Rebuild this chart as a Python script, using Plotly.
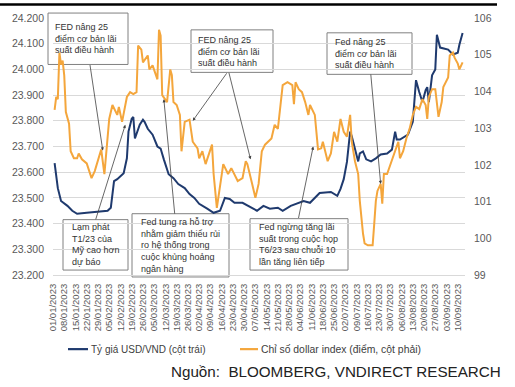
import plotly.graph_objects as go

# ---------------- DATA ----------------
usd_dates = ["2023-01-02","2023-01-04","2023-01-06","2023-01-10","2023-01-13","2023-01-16","2023-01-22","2023-01-28",
             "2023-02-04","2023-02-06","2023-02-07","2023-02-08","2023-02-10","2023-02-14","2023-02-16","2023-02-17",
             "2023-02-19","2023-02-20","2023-02-21","2023-02-24","2023-02-26","2023-02-27","2023-03-01","2023-03-04",
             "2023-03-07","2023-03-09","2023-03-11","2023-03-14","2023-03-17","2023-03-20","2023-03-24","2023-03-27",
             "2023-03-30","2023-04-02","2023-04-07","2023-04-11","2023-04-15","2023-04-18","2023-04-21","2023-04-24",
             "2023-04-29","2023-05-04","2023-05-08","2023-05-12","2023-05-16","2023-05-21","2023-05-24","2023-05-29",
             "2023-06-02","2023-06-06","2023-06-10","2023-06-13","2023-06-16","2023-06-23","2023-06-27","2023-06-29",
             "2023-07-01","2023-07-03","2023-07-05","2023-07-06","2023-07-10","2023-07-11","2023-07-13","2023-07-15",
             "2023-07-18","2023-07-21","2023-07-24","2023-07-28","2023-07-31","2023-08-02","2023-08-03","2023-08-05",
             "2023-08-08","2023-08-10","2023-08-13","2023-08-15","2023-08-17","2023-08-19","2023-08-21","2023-08-22",
             "2023-08-23","2023-08-25","2023-08-27","2023-08-28","2023-08-30","2023-09-04","2023-09-07","2023-09-10",
             "2023-09-11","2023-09-13"]
usd_vnd = [23635,23538,23488,23469,23450,23438,23442,23446,
           23450,23462,23515,23565,23573,23596,23654,23758,
           23808,23815,23731,23785,23804,23796,23769,23746,
           23700,23692,23650,23592,23577,23554,23538,23515,
           23500,23477,23458,23442,23450,23500,23496,23481,
           23481,23462,23450,23469,23458,23462,23450,23469,
           23477,23488,23481,23500,23519,23523,23508,23535,
           23573,23640,23758,23740,23642,23673,23681,23650,
           23642,23654,23669,23673,23688,23758,23727,23727,
           23738,23746,23796,23958,23912,23873,23919,23931,
           23873,23977,24000,24135,24085,24077,24058,24065,
           24096,24142]

dxy_dates = ["2023-01-02","2023-01-03","2023-01-04","2023-01-05","2023-01-06","2023-01-07","2023-01-08","2023-01-09",
             "2023-01-11","2023-01-12","2023-01-14","2023-01-16","2023-01-17","2023-01-19","2023-01-22","2023-01-25",
             "2023-01-27","2023-01-29","2023-01-31","2023-02-02","2023-02-05","2023-02-07","2023-02-10","2023-02-11",
             "2023-02-13","2023-02-16","2023-02-18","2023-02-20","2023-02-22","2023-02-23","2023-02-25","2023-02-26",
             "2023-03-01","2023-03-02","2023-03-04","2023-03-07","2023-03-08","2023-03-09","2023-03-10","2023-03-13",
             "2023-03-15","2023-03-16","2023-03-17","2023-03-19","2023-03-21","2023-03-22","2023-03-24","2023-03-27",
             "2023-03-28","2023-03-29","2023-04-01","2023-04-02","2023-04-04","2023-04-06","2023-04-10","2023-04-11",
             "2023-04-13","2023-04-15","2023-04-17","2023-04-20","2023-04-22","2023-04-26","2023-04-29","2023-05-01",
             "2023-05-02","2023-05-05","2023-05-07","2023-05-09","2023-05-11","2023-05-13","2023-05-15","2023-05-17",
             "2023-05-19","2023-05-21","2023-05-24","2023-05-27","2023-05-30","2023-05-31","2023-06-01","2023-06-03",
             "2023-06-05","2023-06-07","2023-06-09","2023-06-10","2023-06-13","2023-06-15","2023-06-17","2023-06-18",
             "2023-06-21","2023-06-23","2023-06-25","2023-06-27","2023-06-29","2023-07-01","2023-07-03","2023-07-05",
             "2023-07-06","2023-07-08","2023-07-10","2023-07-11","2023-07-13","2023-07-14","2023-07-16","2023-07-19",
             "2023-07-20","2023-07-21","2023-07-22","2023-07-24","2023-07-25","2023-07-26","2023-07-28","2023-07-30",
             "2023-08-01","2023-08-04","2023-08-05","2023-08-07","2023-08-09","2023-08-11","2023-08-13","2023-08-15",
             "2023-08-17","2023-08-19","2023-08-21","2023-08-22","2023-08-23","2023-08-25","2023-08-27","2023-08-29",
             "2023-08-31","2023-09-01","2023-09-04","2023-09-05","2023-09-07","2023-09-08","2023-09-10","2023-09-11",
             "2023-09-13"]
dxy = [103.50,103.85,103.79,105.06,104.73,104.84,104.44,103.44,
       103.12,102.37,102.18,102.18,102.31,102.15,102.04,101.64,
       101.83,102.10,102.42,101.75,103.25,103.63,103.36,103.58,
       103.17,103.85,103.98,103.93,103.98,105.25,105.14,104.79,
       104.98,104.60,104.71,104.33,105.68,105.52,103.90,103.71,
       104.60,104.44,103.71,103.63,103.36,102.37,103.17,103.23,
       102.98,102.63,102.45,102.18,102.37,102.02,102.55,101.75,
       100.83,101.48,102.02,101.75,101.91,101.56,101.64,102.10,
       102.02,101.48,101.10,101.48,102.37,102.55,102.63,102.72,
       103.09,102.98,104.17,104.25,104.17,103.65,104.25,104.06,
       103.98,103.71,103.36,103.63,103.36,102.42,102.45,102.63,
       102.10,102.31,102.90,102.63,103.25,102.90,102.77,103.36,
       102.63,102.10,101.75,101.02,100.13,99.86,99.81,99.81,
       100.40,101.02,101.29,101.48,100.94,101.75,101.75,102.02,
       102.28,102.63,102.18,102.37,102.72,102.98,103.36,103.58,
       103.52,103.79,103.63,103.25,103.85,104.06,104.06,103.31,
       103.71,104.12,104.38,104.98,105.06,104.92,104.76,104.60,
       104.79]

assert len(usd_dates) == len(usd_vnd)
assert len(dxy_dates) == len(dxy)

series_names = ["Tỷ giá USD/VND (cột trái)", "Chỉ số dollar index (điểm, cột phải)"]
source_text = "Nguồn:\u00a0\u00a0BLOOMBERG, VNDIRECT RESEARCH"

# event annotations: (text, arrow-target date, arrow-target dxy value)
events = [
    ("FED nâng 25<br>điểm cơ bản lãi<br>suất điều hành", [("2023-02-01", 102.39)]),
    ("FED nâng 25<br>điểm cơ bản lãi<br>suất điều hành", [("2023-03-29", 103.20), ("2023-05-04", 102.15)]),
    ("Fed nâng 25<br>điểm cơ bản lãi<br>suất điều hành", [("2023-07-24", 101.48)]),
    ("Lạm phát<br>T1/23 của<br>Mỹ cao hơn<br>dự báo", [("2023-02-15", 103.09)]),
    ("Fed tung ra hỗ trợ<br>nhằm giảm thiểu rủi<br>ro hệ thống trong<br>cuộc khủng hoảng<br>ngân hàng", [("2023-03-11", 103.79)]),
    ("Fed ngừng tăng lãi<br>suất trong cuộc họp<br>T6/23 sau chuỗi 10<br>lần tăng liên tiếp", [("2023-06-12", 102.50)]),
]

# ---------------- LAYOUT HELPERS ----------------
L, R, T, B = 53, 465, 15, 275
W_, H_ = R - L, B - T
def px(x): return (x - L) / W_
def py(y): return (B - y) / H_

# box pixel rectangles (left, top, right, bottom) and arrow tails/heads (pixel) for each event
boxes = [(48, 10, 128, 62), (191, 27, 273, 70), (327, 30, 412, 72),
         (63, 219, 128, 270), (132, 213, 229, 277), (250, 218, 348, 270)]
text_pad = [5, 5, 6, 7, 7, 7]
tails = [[(90, 62)], [(228, 70), (228, 70)], [(370, 72)],
         [(95, 219)], [(175, 213)], [(298, 218)]]
heads = [[(103, 149)], [(193, 119), (250, 158)], [(380, 183)],
         [(125, 123)], [(164, 97)], [(313, 145)]]

BLUE = "#1F3A6E"
ORANGE = "#F4A63C"
FONT = "Liberation Sans, Arial, sans-serif"

fig = go.Figure()
fig.add_trace(go.Scatter(x=dxy_dates, y=dxy, yaxis="y2", mode="lines", name=series_names[1],
                         line=dict(color=ORANGE, width=2)))
fig.add_trace(go.Scatter(x=usd_dates, y=usd_vnd, yaxis="y", mode="lines", name=series_names[0],
                         line=dict(color=BLUE, width=2)))

annotations = []
shapes = []
for (text, targets), (l, t, r, b), tp, tl, hd in zip(events, boxes, text_pad, tails, heads):
    shapes.append(dict(type="rect", xref="paper", yref="paper", x0=px(l), x1=px(r), y0=py(b), y1=py(t),
                       fillcolor="white", line=dict(color="#808080", width=1), layer="between"))
    annotations.append(dict(x=px(l + tp), y=py((t + b) / 2), xref="paper", yref="paper",
                            xanchor="left", yanchor="middle", text=text, showarrow=False, align="left",
                            font=dict(size=9, color="#333333", family=FONT)))
    for (d, v), (tx, ty), (hx, hy) in zip(targets, tl, hd):
        annotations.append(dict(x=d, y=v, xref="x", yref="y2", text="", showarrow=True,
                                ax=tx - hx, ay=ty - hy, arrowhead=2, arrowsize=0.8,
                                arrowwidth=0.8, arrowcolor="#404040", standoff=0))

# manual legend and source
annotations.append(dict(x=px(89), y=py(350), xref="paper", yref="paper", xanchor="left", yanchor="middle",
                        text=series_names[0], showarrow=False, font=dict(size=10, color="#404040", family=FONT)))
annotations.append(dict(x=px(259), y=py(350), xref="paper", yref="paper", xanchor="left", yanchor="middle",
                        text=series_names[1], showarrow=False, font=dict(size=10.4, color="#404040", family=FONT)))
annotations.append(dict(x=px(503), y=py(373), xref="paper", yref="paper", xanchor="right", yanchor="middle",
                        text=source_text, showarrow=False, font=dict(size=15.2, color="#222222", family=FONT)))

shapes += [
    dict(type="rect", xref="paper", yref="paper", x0=px(0), x1=px(497), y0=py(2.5), y1=py(0),
         fillcolor="black", line=dict(width=0)),
    dict(type="line", xref="paper", yref="paper", x0=px(68), x1=px(88), y0=py(350), y1=py(350),
         line=dict(color=BLUE, width=2.2)),
    dict(type="line", xref="paper", yref="paper", x0=px(240), x1=px(258), y0=py(350), y1=py(350),
         line=dict(color=ORANGE, width=2.2)),
]

fig.update_layout(
    width=515, height=387,
    margin=dict(l=L, r=515 - R, t=T, b=387 - B, pad=0),
    plot_bgcolor="white", paper_bgcolor="white",
    font=dict(family=FONT, color="#595959"),
    separators=",.",
    showlegend=False,
    annotations=annotations,
    shapes=shapes,
    xaxis=dict(type="date", range=["2023-01-01", "2023-09-14 12:00"], tick0="2023-01-01",
               dtick=7 * 24 * 3600 * 1000, tickformat="%d/%m/%Y", tickangle=-90,
               tickfont=dict(size=9.5, color="#595959"), showgrid=False, zeroline=False,
               showline=True, linecolor="#D9D9D9", linewidth=1, ticks="", ticklabelstandoff=4),
    yaxis=dict(range=[23200, 24200], dtick=100, tickformat=",.0f", showgrid=True,
               gridcolor="#D9D9D9", gridwidth=1, zeroline=False, showline=False,
               tickfont=dict(size=10.5, color="#595959"), ticklabelstandoff=8),
    yaxis2=dict(range=[99, 106], dtick=1, overlaying="y", side="right", showgrid=False,
                zeroline=False, showline=False, tickfont=dict(size=10.5, color="#595959"),
                ticklabelstandoff=8),
)

fig.write_html("out.html", config={"displayModeBar": False},
               post_script="document.body.style.margin='0';")
